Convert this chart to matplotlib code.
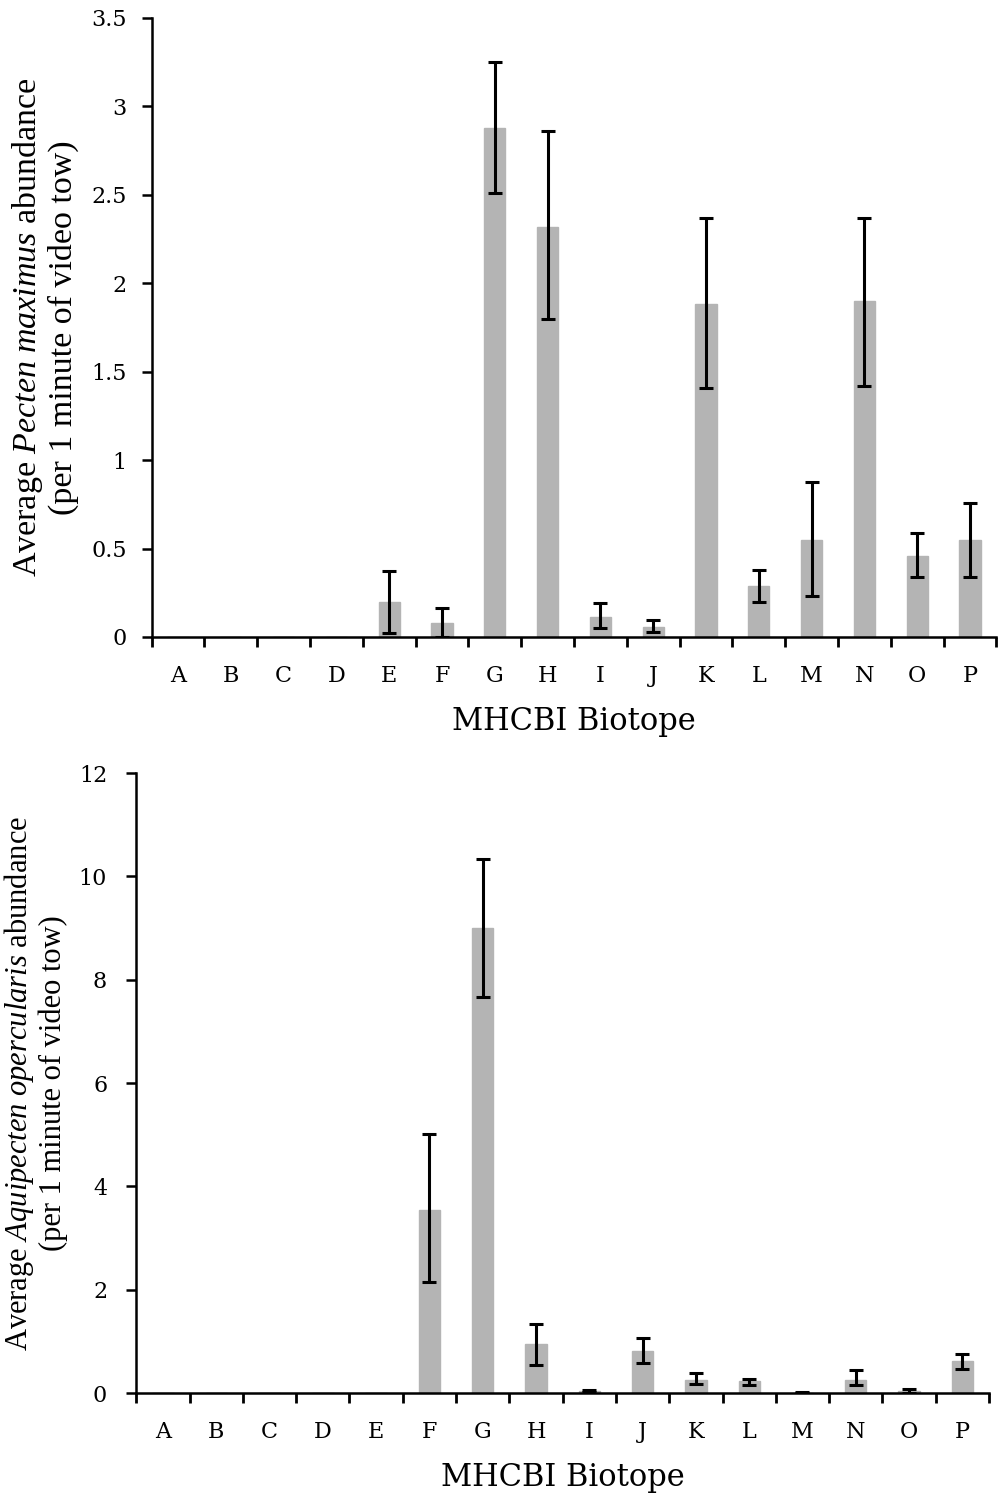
import numpy as np
import matplotlib.pyplot as plt
from matplotlib.ticker import FixedLocator

lab_font = "Liberation Serif"
plt.rcParams['mathtext.fontset'] = 'custom'
plt.rcParams['mathtext.rm'] = lab_font
plt.rcParams['mathtext.it'] = lab_font + ':italic'

biotopes = list("ABCDEFGHIJKLMNOP")

# Pecten maximus: mean, lower and upper error bar ends (nan = no bar)
pm_mean = [0, 0, 0, 0, 0.20, 0.08, 2.88, 2.32, 0.11, 0.056, 1.88, 0.29, 0.55, 1.90, 0.46, 0.55]
pm_lo = [np.nan, np.nan, np.nan, np.nan, 0.02, 0.0, 2.51, 1.80, 0.048, 0.03, 1.41, 0.20, 0.23, 1.42, 0.34, 0.34]
pm_hi = [np.nan, np.nan, np.nan, np.nan, 0.37, 0.165, 3.25, 2.86, 0.19, 0.094, 2.37, 0.38, 0.875, 2.37, 0.59, 0.76]

# Aquipecten opercularis
ao_mean = [0, 0, 0, 0, 0, 3.55, 9.0, 0.94, 0.04, 0.81, 0.26, 0.23, 0.01, 0.26, 0.04, 0.62]
ao_lo = [np.nan, np.nan, np.nan, np.nan, np.nan, 2.15, 7.67, 0.54, 0.02, 0.58, 0.17, 0.16, 0.01, 0.155, 0.006, 0.47]
ao_hi = [np.nan, np.nan, np.nan, np.nan, np.nan, 5.02, 10.33, 1.34, 0.05, 1.07, 0.39, 0.28, 0.013, 0.445, 0.077, 0.755]

pm_ticks = [0, 0.5, 1, 1.5, 2, 2.5, 3, 3.5]
pm_ticklabels = ["0", "0.5", "1", "1.5", "2", "2.5", "3", "3.5"]
ao_ticks = [0, 2, 4, 6, 8, 10, 12]

bar_col = "#b4b4b4"
serif = "DejaVu Serif"


def panel(ax, mean, lo, hi, yticks, yticklabels, ylim, ylabel, lsize, lx, ypad):
    x = np.arange(len(biotopes))
    mean = np.array(mean)
    lo = np.array(lo)
    hi = np.array(hi)
    ax.bar(x, mean, width=0.4, color=bar_col, edgecolor=bar_col, linewidth=1, zorder=2)
    ok = ~np.isnan(lo)
    ax.errorbar(x[ok], mean[ok], yerr=[mean[ok] - lo[ok], hi[ok] - mean[ok]], fmt='none',
                ecolor='black', elinewidth=2.2, capsize=5, capthick=2.2, zorder=3)
    ax.set_xlim(-0.5, len(biotopes) - 0.5)
    ax.set_ylim(*ylim)
    for s in ['top', 'right']:
        ax.spines[s].set_visible(False)
    for s in ['left', 'bottom']:
        ax.spines[s].set_linewidth(1.8)
    ax.set_xticks(x)
    ax.set_xticklabels(biotopes, fontsize=16, family=serif)
    ax.xaxis.set_minor_locator(FixedLocator(np.arange(-0.5, len(biotopes), 1.0)))
    ax.tick_params(axis='x', which='major', length=0, pad=20)
    ax.tick_params(axis='x', which='minor', length=7, width=2, direction='out')
    ax.set_yticks(yticks)
    ax.set_yticklabels(yticklabels, fontsize=16, family=serif)
    ax.tick_params(axis='y', length=7, width=1.8, pad=ypad)
    ax.set_ylabel(ylabel, fontsize=lsize, family=lab_font, linespacing=1.12)
    ax.yaxis.set_label_coords(lx, 0.5)
    ax.set_xlabel("MHCBI Biotope", fontsize=22, family=serif, va='center')
    ax.xaxis.set_label_coords(0.5, -0.137)


fig = plt.figure(figsize=(9.98, 14.99), dpi=100)
ax1 = fig.add_axes([0.1519, 0.5751, 0.8465, 0.4129])
ax2 = fig.add_axes([0.1366, 0.0707, 0.8544, 0.4136])

panel(ax1, pm_mean, pm_lo, pm_hi, pm_ticks, pm_ticklabels, (0, 3.5),
      "Average $\\it{Pecten\\ maximus}$ abundance\n(per 1 minute of video tow)", 24.5, -0.086, 11)
panel(ax2, ao_mean, ao_lo, ao_hi, ao_ticks, [str(t) for t in ao_ticks], (0, 12),
      "Average $\\it{Aquipecten\\ opercularis}$ abundance\n(per 1 minute of video tow)", 22, -0.080, 14)

fig.savefig("out.png", dpi=100)
